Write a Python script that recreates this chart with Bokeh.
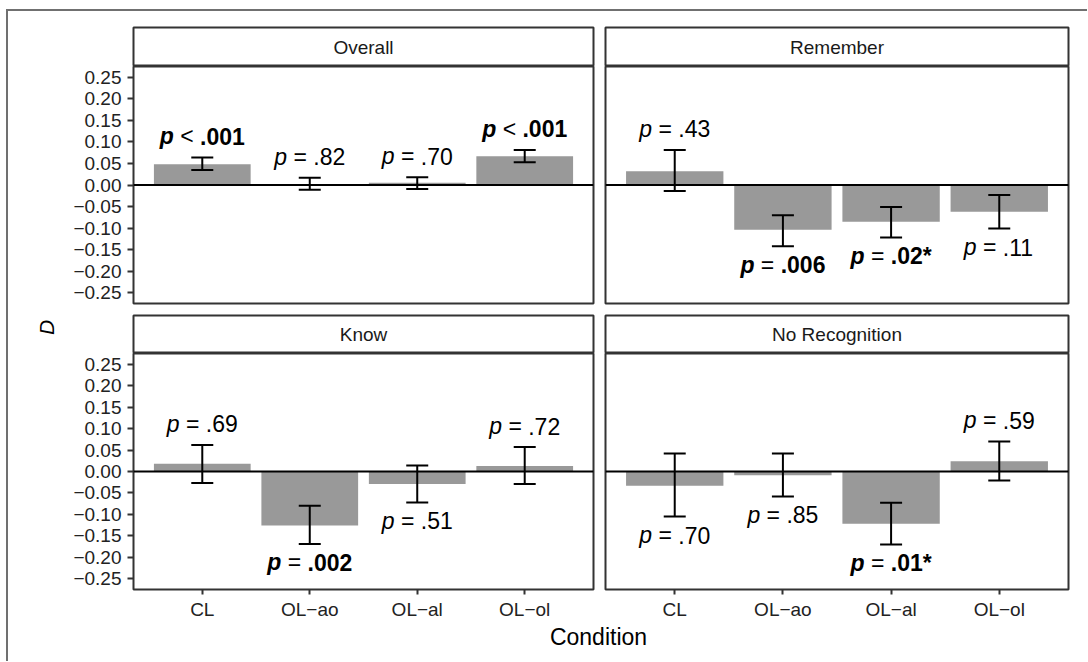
import math
from bokeh.plotting import figure
from bokeh.models import (ColumnDataSource, Range1d, FixedTicker, Span, Whisker,
                          TeeHead, Div, CustomJSTickFormatter)
from bokeh.layouts import column, row
from bokeh.core.properties import value
from bokeh.embed import file_html
from bokeh.resources import INLINE

# ---------------- data ----------------
conditions = ["CL", "OL\u2212ao", "OL\u2212al", "OL\u2212ol"]
panel_titles = ["Overall", "Remember", "Know", "No Recognition"]

overall_mean = [0.048, 0.002, 0.005, 0.067]
overall_lower = [0.035, -0.011, -0.009, 0.053]
overall_upper = [0.064, 0.017, 0.018, 0.081]
overall_p = ["< .001", "= .82", "= .70", "< .001"]
overall_sig = [True, False, False, True]

remember_mean = [0.032, -0.104, -0.085, -0.062]
remember_lower = [-0.014, -0.142, -0.122, -0.101]
remember_upper = [0.081, -0.070, -0.051, -0.023]
remember_p = ["= .43", "= .006", "= .02*", "= .11"]
remember_sig = [False, True, True, False]

know_mean = [0.018, -0.126, -0.029, 0.013]
know_lower = [-0.027, -0.169, -0.072, -0.029]
know_upper = [0.062, -0.080, 0.014, 0.057]
know_p = ["= .69", "= .002", "= .51", "= .72"]
know_sig = [False, True, False, False]

norec_mean = [-0.033, -0.009, -0.122, 0.024]
norec_lower = [-0.105, -0.058, -0.170, -0.021]
norec_upper = [0.042, 0.042, -0.073, 0.070]
norec_p = ["= .70", "= .85", "= .01*", "= .59"]
norec_sig = [False, False, True, False]

y_ticks = [0.25, 0.20, 0.15, 0.10, 0.05, 0.00, -0.05, -0.10, -0.15, -0.20, -0.25]

# ---------------- styling ----------------
FONT = "Liberation Sans"
TICK_FS = 19
STRIP_FS = 19
P_FS = 23
BORDER = "#333333"
BAR = "#999999"
FRAME_LINE = "#707070"

REG_W = {"p": 0.556, " ": 0.278, "=": 0.584, "<": 0.584, ".": 0.278, "*": 0.389}
BOLD_W = {"p": 0.611, " ": 0.278, "=": 0.584, "<": 0.584, ".": 0.278, "*": 0.389}


def text_width(s, bold, fs):
    table = BOLD_W if bold else REG_W
    return sum(table.get(c, 0.556) for c in s) * fs


FRAME_W = 463
FRAME_H = 237


def make_strip(title, left, right, top, h):
    s = figure(width=left + FRAME_W + right, height=top + h,
               x_range=Range1d(0, 1), y_range=Range1d(0, 1),
               min_border_left=left, min_border_right=right,
               min_border_top=top, min_border_bottom=0,
               x_axis_location=None, y_axis_location=None,
               toolbar_location=None, tools="", output_backend="svg")
    s.grid.visible = False
    s.outline_line_color = BORDER
    s.outline_line_width = 2
    s.text(x=[0.5], y=[0.5], text=[title], text_align="center",
           text_baseline="middle", text_font=value(FONT),
           text_font_size=f"{STRIP_FS}px", text_color="#1a1a1a")
    return s


def make_panel(mean, lower, upper, pvals, sig, left_axis, bottom_axis):
    left = 60 if left_axis else 6
    right = 6 if left_axis else 4
    bottom = 32 if bottom_axis else 2
    p = figure(width=left + FRAME_W + right, height=FRAME_H + bottom,
               x_range=Range1d(0.36, 4.64), y_range=Range1d(-0.275, 0.275),
               min_border_left=left, min_border_right=right,
               min_border_top=0, min_border_bottom=bottom,
               x_axis_location="below" if bottom_axis else None,
               y_axis_location="left" if left_axis else None,
               toolbar_location=None, tools="", output_backend="svg")
    p.grid.visible = False
    p.outline_line_color = BORDER
    p.outline_line_width = 2

    xs = list(range(1, len(conditions) + 1))
    src = ColumnDataSource(dict(x=xs, mean=mean, lower=lower, upper=upper))
    p.vbar(x="x", top="mean", bottom=0, width=0.9, source=src,
           fill_color=BAR, line_color=None)
    p.add_layout(Span(location=0, dimension="width", line_color="black",
                      line_width=2))
    wh = Whisker(source=src, base="x", lower="lower", upper="upper",
                 line_color="black", line_width=2,
                 upper_head=TeeHead(size=22, line_width=2, line_color="black"),
                 lower_head=TeeHead(size=22, line_width=2, line_color="black"))
    wh.level = "annotation"
    p.add_layout(wh)

    # p-value labels: italic p, operator, value (bold when significant)
    sp = REG_W[" "] * P_FS
    lx, ly = [], []
    p_off, op_off, v_off = [], [], []
    p_style, v_style, ops, vals = [], [], [], []
    for i, (m, lo, up, pv, sg) in enumerate(zip(mean, lower, upper, pvals, sig)):
        op, val = pv.split(" ", 1)
        wp = text_width("p", sg, P_FS)
        wop = text_width(op, False, P_FS)
        wv = text_width(val, sg, P_FS)
        total = wp + sp + wop + sp + wv
        start = -total / 2
        lx.append(xs[i])
        ly.append(up + 0.049 if m >= 0 else lo - 0.043)
        p_off.append(start)
        op_off.append(start + wp + sp)
        v_off.append(start + wp + 2 * sp + wop)
        p_style.append("bold italic" if sg else "italic")
        v_style.append("bold" if sg else "normal")
        ops.append(op)
        vals.append(val)
    lsrc = ColumnDataSource(dict(x=lx, y=ly, p=["p"] * len(lx), op=ops, val=vals,
                                 p_off=p_off, op_off=op_off, v_off=v_off,
                                 p_style=p_style, v_style=v_style))
    common = dict(x="x", y="y", source=lsrc, text_align="left",
                  text_baseline="middle", text_font=value(FONT),
                  text_font_size=f"{P_FS}px", text_color="black")
    p.text(text="p", x_offset="p_off", text_font_style="p_style", **common)
    p.text(text="op", x_offset="op_off", **common)
    p.text(text="val", x_offset="v_off", text_font_style="v_style", **common)

    if left_axis:
        ax = p.yaxis[0]
        ax.ticker = FixedTicker(ticks=y_ticks)
        ax.formatter = CustomJSTickFormatter(
            code="return (tick < -1e-9 ? '\u2212' : '') + Math.abs(tick).toFixed(2);")
        ax.major_tick_in = 0
        ax.major_tick_out = 6
        ax.major_tick_line_width = 2
        ax.major_tick_line_color = BORDER
        ax.minor_tick_line_color = None
        ax.axis_line_color = None
        ax.major_label_standoff = 6
        ax.major_label_text_font = FONT
        ax.major_label_text_font_size = f"{TICK_FS}px"
        ax.major_label_text_color = "#222222"
    if bottom_axis:
        ax = p.xaxis[0]
        ax.ticker = FixedTicker(ticks=xs)
        ax.formatter = CustomJSTickFormatter(
            args=dict(labels=conditions),
            code="return labels[Math.round(tick) - 1];")
        ax.major_tick_in = 0
        ax.major_tick_out = 5
        ax.major_tick_line_width = 2
        ax.major_tick_line_color = BORDER
        ax.minor_tick_line_color = None
        ax.axis_line_color = None
        ax.major_label_standoff = 4
        ax.major_label_text_font = FONT
        ax.major_label_text_font_size = f"{TICK_FS}px"
        ax.major_label_text_color = "#222222"
    return p


# ---------------- panels ----------------
strip1 = make_strip(panel_titles[0], 60, 6, 16, 39)
plot1 = make_panel(overall_mean, overall_lower, overall_upper, overall_p,
                   overall_sig, True, False)
strip3 = make_strip(panel_titles[2], 60, 6, 10, 38)
plot3 = make_panel(know_mean, know_lower, know_upper, know_p, know_sig,
                   True, True)

strip2 = make_strip(panel_titles[1], 6, 4, 16, 39)
plot2 = make_panel(remember_mean, remember_lower, remember_upper, remember_p,
                   remember_sig, False, False)
strip4 = make_strip(panel_titles[3], 6, 4, 10, 38)
plot4 = make_panel(norec_mean, norec_lower, norec_upper, norec_p, norec_sig,
                   False, True)

left_col = column(strip1, plot1, strip3, plot3, spacing=0)
right_col = column(strip2, plot2, strip4, plot4, spacing=0)

COL_H = 55 + 239 + 48 + 269
YLAB_W = 62

ylab = figure(width=YLAB_W, height=COL_H, x_range=Range1d(0, YLAB_W),
              y_range=Range1d(0, COL_H), min_border=0,
              x_axis_location=None, y_axis_location=None,
              toolbar_location=None, tools="", output_backend="svg")
ylab.grid.visible = False
ylab.outline_line_color = None
ylab.text(x=[38], y=[COL_H - 316], text=["D"], angle=math.pi / 2,
          text_align="center", text_baseline="middle",
          text_font=value(FONT), text_font_style="italic",
          text_font_size="21px", text_color="black")

MAIN_W = YLAB_W + 529 + 473
xlab = figure(width=MAIN_W, height=30, x_range=Range1d(0, MAIN_W),
              y_range=Range1d(0, 30), min_border=0,
              x_axis_location=None, y_axis_location=None,
              toolbar_location=None, tools="", output_backend="svg")
xlab.grid.visible = False
xlab.outline_line_color = None
xlab.text(x=[590], y=[16], text=["Condition"], text_align="center",
          text_baseline="middle", text_font=value(FONT),
          text_font_size="23px", text_color="black")

main = column(row(ylab, left_col, right_col, spacing=0), xlab, spacing=0)

top_line = Div(text="", width=1081, height=2, margin=(9, 0, 0, 0),
               styles={"background-color": FRAME_LINE})
left_line = Div(text="", width=2, height=650, margin=0,
                styles={"background-color": FRAME_LINE})

root = column(top_line, row(left_line, main, spacing=0), spacing=0,
              margin=(0, 0, 0, 6))

open("out.html", "w").write(file_html(root, INLINE, "chart"))
